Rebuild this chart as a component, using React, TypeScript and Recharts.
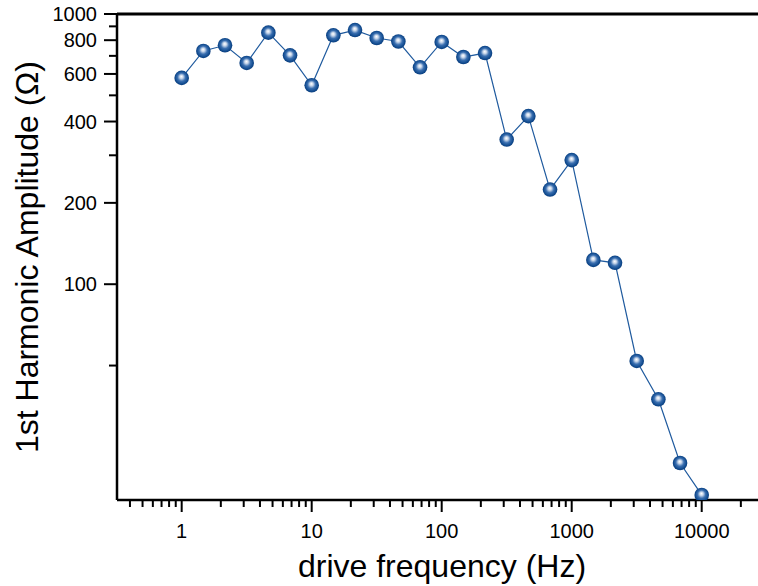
import React from "react";
import { LineChart, Line, XAxis, YAxis, ReferenceLine, Label } from "recharts";

const frequencies = [
  1, 1.468, 2.154, 3.162, 4.642, 6.813, 10, 14.68, 21.54, 31.62, 46.42, 68.13,
  100, 146.8, 215.4, 316.2, 464.2, 681.3, 1000, 1468, 2154, 3162, 4642, 6813, 10000,
];
const amplitudes = [
  580, 730, 766, 659, 853, 703, 545, 834, 872, 815, 791, 635,
  788, 693, 717, 343, 419, 224, 288, 123, 120, 52, 37.5, 21.8, 16.6,
];

const xMajorTicks = [1, 10, 100, 1000, 10000];
const xMinorTicks = [
  0.4, 0.5, 0.6, 0.7, 0.8, 0.9,
  2, 3, 4, 5, 6, 7, 8, 9,
  20, 30, 40, 50, 60, 70, 80, 90,
  200, 300, 400, 500, 600, 700, 800, 900,
  2000, 3000, 4000, 5000, 6000, 7000, 8000, 9000,
  20000,
];
const yMajorTicks = [100, 200, 400, 600, 800, 1000];
const yMinorTicks = [50, 300, 500, 700, 900];

const xDomain = [0.318, 27100];
const yDomain = [15.9, 1000];

const xTitle = "drive frequency (Hz)";
const yTitle = "1st Harmonic Amplitude (Ω)";

const FONT = "'Liberation Sans', Arial, sans-serif";

const data = frequencies.map((f, i) => ({ f, amp: amplitudes[i] }));
const xTicks = [...xMajorTicks, ...xMinorTicks].sort((a, b) => a - b);
const yTicks = [...yMajorTicks, ...yMinorTicks].sort((a, b) => a - b);

const XTick = (props: any) => {
  const { x, y, payload } = props;
  const v = payload.value;
  const major = xMajorTicks.includes(v);
  return (
    <g>
      <line x1={x} x2={x} y1={y} y2={y + (major ? 12 : 7)} stroke="#000" strokeWidth={2} />
      {major && (
        <text x={x} y={y + 37.5} textAnchor="middle" fontSize={20} fontFamily={FONT} fill="#000">
          {String(v)}
        </text>
      )}
    </g>
  );
};

const YTick = (props: any) => {
  const { x, y, payload } = props;
  const v = payload.value;
  const major = yMajorTicks.includes(v);
  return (
    <g>
      <line x1={x - (major ? 13 : 8)} x2={x} y1={y} y2={y} stroke="#000" strokeWidth={2} />
      {major && (
        <text x={x - 20} y={y} dy="0.35em" textAnchor="end" fontSize={20} fontFamily={FONT} fill="#000">
          {String(v)}
        </text>
      )}
    </g>
  );
};

const SphereDot = (props: any) => {
  const { cx, cy, index } = props;
  if (cx == null || cy == null) return null;
  return (
    <g key={`dot-${index}`}>
      <defs>
        <radialGradient id={`sph${index}`} cx="50%" cy="50%" r="55%" fx="48%" fy="40%">
          <stop offset="0%" stopColor="#ffffff" />
          <stop offset="22%" stopColor="#c7d6ea" />
          <stop offset="50%" stopColor="#3a6fb0" />
          <stop offset="80%" stopColor="#104a8e" />
          <stop offset="100%" stopColor="#0a3670" />
        </radialGradient>
      </defs>
      <circle cx={cx} cy={cy} r={7.3} fill={`url(#sph${index})`} />
    </g>
  );
};

export default function App() {
  return (
    <div style={{ position: "absolute", left: 0, top: 0, width: 758, height: 586, overflow: "hidden", background: "#fff" }}>
      <LineChart width={758} height={586} data={data} margin={{ top: 14, right: 0, bottom: 0, left: 0 }}>
        <XAxis
          type="number"
          dataKey="f"
          scale="log"
          domain={xDomain}
          allowDataOverflow
          ticks={xTicks}
          interval={0}
          tickSize={0}
          tickMargin={0}
          tickLine={false}
          tick={<XTick />}
          height={86}
          axisLine={{ stroke: "#000", strokeWidth: 2.5 }}
        >
          <Label
            content={() => (
              <text x={442} y={577} textAnchor="middle" fontSize={32} fontFamily={FONT} fill="#000">
                {xTitle}
              </text>
            )}
          />
        </XAxis>
        <YAxis
          type="number"
          scale="log"
          domain={yDomain}
          allowDataOverflow
          ticks={yTicks}
          interval={0}
          tickSize={0}
          tickMargin={0}
          tickLine={false}
          tick={<YTick />}
          width={117}
          axisLine={{ stroke: "#000", strokeWidth: 2.5 }}
        >
          <Label
            content={() => (
              <text
                x={38}
                y={257}
                transform="rotate(-90, 38, 257)"
                textAnchor="middle"
                fontSize={32}
                fontFamily={FONT}
                fill="#000"
              >
                {yTitle}
              </text>
            )}
          />
        </YAxis>
        <ReferenceLine y={1000} stroke="#000" strokeWidth={3} />
        <Line
          type="linear"
          dataKey="amp"
          stroke="#1f5a9e"
          strokeWidth={1.2}
          dot={<SphereDot />}
          activeDot={false}
          isAnimationActive={false}
        />
      </LineChart>
    </div>
  );
}
